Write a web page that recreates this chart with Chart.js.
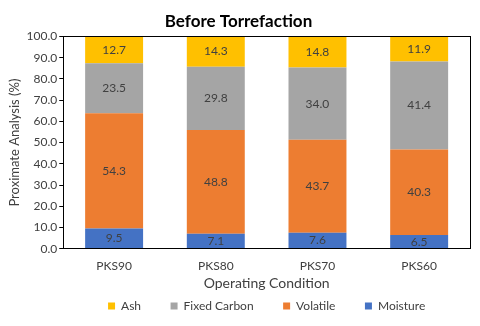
<!DOCTYPE html>
<html>
<head>
<meta charset="utf-8">
<script src="https://cdn.jsdelivr.net/npm/chart.js@4"></script>
<style>
  html, body { margin: 0; padding: 0; background: #fff; }
  #wrap { width: 480px; height: 326px; }
</style>
</head>
<body>
<div id="wrap"><canvas id="chart"></canvas></div>
<script>
const categories = ['PKS90', 'PKS80', 'PKS70', 'PKS60'];
const moisture = [9.5, 7.1, 7.6, 6.5];
const volatile = [54.3, 48.8, 43.7, 40.3];
const fixedCarbon = [23.5, 29.8, 34.0, 41.4];
const ash = [12.7, 14.3, 14.8, 11.9];

const fontFamily = 'Lato, "Open Sans", sans-serif';

// Etiquetas de valor no centro de cada segmento
const valueLabels = {
  id: 'valueLabels',
  afterDatasetsDraw(chart) {
    const ctx = chart.ctx;
    ctx.save();
    ctx.font = '12px ' + fontFamily;
    ctx.fillStyle = '#404040';
    ctx.textAlign = 'center';
    ctx.textBaseline = 'middle';
    chart.data.datasets.forEach((ds, i) => {
      chart.getDatasetMeta(i).data.forEach((bar, j) => {
        const mid = (bar.y + bar.base) / 2;
        ctx.fillText(ds.data[j].toFixed(1), bar.x, mid);
      });
    });
    ctx.restore();
  }
};

// Moldura preta em volta da área do gráfico
const plotBorder = {
  id: 'plotBorder',
  afterDraw(chart) {
    const a = chart.chartArea;
    const ctx = chart.ctx;
    ctx.save();
    ctx.strokeStyle = '#000';
    ctx.lineWidth = 1;
    ctx.strokeRect(Math.round(a.left) + 0.5, Math.round(a.top) + 0.5,
      Math.round(a.right - a.left), Math.round(a.bottom - a.top));
    ctx.restore();
  }
};

// Espaço extra entre itens da legenda sem aumentar a altura
const legendLabels = chart => {
  const items = Chart.defaults.plugins.legend.labels.generateLabels(chart);
  items.forEach(it => {
    if (it.datasetIndex !== 0) it.text = it.text + '\u00a0'.repeat(7);
  });
  return items;
};

new Chart(document.getElementById('chart').getContext('2d'), {
  type: 'bar',
  data: {
    labels: categories,
    datasets: [
      { label: 'Moisture', data: moisture, backgroundColor: '#4472C4' },
      { label: 'Volatile', data: volatile, backgroundColor: '#ED7D31' },
      { label: 'Fixed Carbon', data: fixedCarbon, backgroundColor: '#A5A5A5' },
      { label: 'Ash', data: ash, backgroundColor: '#FFC000' }
    ]
  },
  options: {
    responsive: true,
    maintainAspectRatio: false,
    animation: false,
    layout: { padding: { left: 7, right: 10, top: 0, bottom: 4 } },
    datasets: { bar: { categoryPercentage: 1, barPercentage: 0.57, borderWidth: 0 } },
    plugins: {
      title: {
        display: true,
        text: 'Before Torrefaction',
        color: '#000',
        font: { family: fontFamily, size: 17, weight: 'bold' },
        padding: { top: 11, bottom: 5 }
      },
      legend: {
        position: 'bottom',
        fullSize: false,
        reverse: true,
        labels: {
          color: '#404040',
          font: { family: fontFamily, size: 12 },
          boxWidth: 7,
          boxHeight: 7,
          padding: 8,
          generateLabels: legendLabels
        }
      },
      tooltip: { enabled: false }
    },
    scales: {
      x: {
        stacked: true,
        grid: { display: false },
        border: { display: true, color: '#000' },
        ticks: { color: '#404040', font: { family: fontFamily, size: 12 }, padding: 2 },
        title: {
          display: true,
          text: 'Operating Condition',
          color: '#404040',
          font: { family: fontFamily, size: 14 },
          padding: { top: 0, bottom: 0 }
        }
      },
      y: {
        stacked: true,
        min: 0,
        max: 100,
        grid: { display: true, drawOnChartArea: false, color: '#000', tickLength: 4 },
        border: { display: true, color: '#000' },
        ticks: {
          stepSize: 10,
          color: '#404040',
          font: { family: fontFamily, size: 12 },
          padding: 2,
          callback: v => v.toFixed(1)
        },
        title: {
          display: true,
          text: 'Proximate Analysis (%)',
          color: '#404040',
          font: { family: fontFamily, size: 13 },
          padding: { top: 0, bottom: 2 }
        }
      }
    }
  },
  plugins: [valueLabels, plotBorder]
});
</script>
</body>
</html>
